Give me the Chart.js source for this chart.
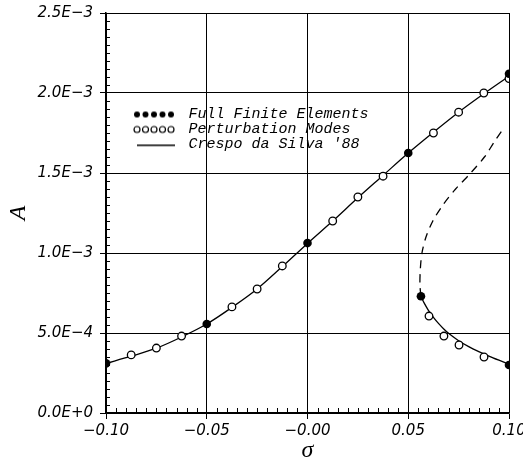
<!DOCTYPE html>
<html>
<head>
<meta charset="utf-8">
<script src="https://cdn.jsdelivr.net/npm/chart.js@4.4.0/dist/chart.umd.min.js"></script>
<style>
body { margin: 0; background: #fff; }
#wrap { width: 523px; height: 461px; position: relative; }
</style>
</head>
<body>
<div id="wrap"><canvas id="canvas"></canvas></div>
<script>
// values (sigma, A)
var ffeX = [-0.10, -0.05, 0.00, 0.05, 0.10, 0.0563, 0.10];
var ffeY = [3.1e-4, 5.56e-4, 1.062e-3, 1.625e-3, 2.12e-3, 7.3e-4, 3.0e-4];

var pmX = [-0.0875, -0.075, -0.0625, -0.0375, -0.025, -0.0125, 0.0125, 0.025, 0.0375, 0.0625, 0.075, 0.0875, 0.10,
           0.0603, 0.0677, 0.0752, 0.0876];
var pmY = [3.63e-4, 4.06e-4, 4.81e-4, 6.63e-4, 7.75e-4, 9.19e-4, 1.2e-3, 1.35e-3, 1.48e-3, 1.75e-3, 1.88e-3, 2.0e-3, 2.09e-3,
           6.06e-4, 4.81e-4, 4.25e-4, 3.5e-4];

// Crespo da Silva '88: upper stable branch, lower stable branch, unstable (dashed) branch
var crespoX = [-0.10, -0.0875, -0.075, -0.0625, -0.05, -0.0375, -0.025, -0.0125, 0.00, 0.0125, 0.025, 0.0375, 0.05, 0.0625, 0.075, 0.0875, 0.10];
var crespoY = [3.1e-4, 3.55e-4, 4.05e-4, 4.75e-4, 5.56e-4, 6.6e-4, 7.75e-4, 9.15e-4, 1.06e-3, 1.2e-3, 1.345e-3, 1.485e-3, 1.625e-3, 1.755e-3, 1.88e-3, 1.995e-3, 2.105e-3];

var lowX = [0.0563, 0.058, 0.060, 0.0625, 0.065, 0.0675, 0.070, 0.075, 0.080, 0.085, 0.090, 0.095, 0.10];
var lowY = [7.3e-4, 6.85e-4, 6.42e-4, 5.98e-4, 5.6e-4, 5.27e-4, 4.98e-4, 4.52e-4, 4.15e-4, 3.84e-4, 3.56e-4, 3.3e-4, 3.05e-4];

var dashX = [0.0563, 0.0558, 0.0560, 0.0568, 0.0588, 0.0622, 0.0672, 0.0735, 0.0810, 0.0878, 0.0930, 0.0968];
var dashY = [7.3e-4, 8.0e-4, 9.0e-4, 1.0e-3, 1.1e-3, 1.2e-3, 1.3e-3, 1.4e-3, 1.5e-3, 1.6e-3, 1.7e-3, 1.77e-3];

var xTickLabels = ['\u22120.10', '\u22120.05', '\u22120.00', '0.05', '0.10'];
var yTickLabels = ['0.0E+0', '5.0E\u22124', '1.0E\u22123', '1.5E\u22123', '2.0E\u22123', '2.5E\u22123'];
var legendLabels = ['Full Finite Elements', 'Perturbation Modes', "Crespo da Silva '88"];

function pts(xs, ys) {
    return xs.map(function (x, i) { return {x: x, y: ys[i]}; });
}

// little legend symbols: 5 dots, 5 rings, a line
function makeSymbol(kind) {
    var c = document.createElement('canvas');
    c.width = 75; c.height = 12;
    var g = c.getContext('2d');
    g.strokeStyle = '#000';
    g.fillStyle = '#000';
    g.lineWidth = 1.2;
    if (kind == 'line') {
        g.fillRect(31, 6, 38, 1.5);
    } else {
        for (var i = 0; i < 5; i++) {
            g.beginPath();
            g.arc(31 + i * 8.5, 6, 3, 0, Math.PI * 2);
            if (kind == 'filled') g.fill(); else g.stroke();
        }
    }
    return c;
}
var symbols = [makeSymbol('filled'), makeSymbol('open'), makeSymbol('line')];

var minorTicks = {
    id: 'minorTicks',
    beforeDatasetsDraw: function (chart) {
        var ctx = chart.ctx, xs = chart.scales.x, ys = chart.scales.y;
        var a = chart.chartArea;
        ctx.save();
        ctx.strokeStyle = '#000';
        ctx.lineWidth = 1;
        ctx.beginPath();
        for (var i = 1; i < 50; i++) {
            if (i % 10 == 0) continue;
            var py = Math.round(ys.getPixelForValue(i * 5e-5)) + 0.5;
            ctx.moveTo(a.left, py); ctx.lineTo(a.left + 4, py);
        }
        for (var j = 1; j < 40; j++) {
            if (j % 10 == 0) continue;
            var px = Math.round(xs.getPixelForValue(-0.1 + j * 0.005)) + 0.5;
            ctx.moveTo(px, a.bottom); ctx.lineTo(px, a.bottom - 5);
        }
        ctx.stroke();
        ctx.restore();
    }
};

var tickFont = {family: 'DejaVu Sans', style: 'italic', size: 15};

var ctx = document.getElementById('canvas').getContext('2d');
var myChart = new Chart(ctx, {
    type: 'scatter',
    data: {
        datasets: [{
            label: legendLabels[0],
            data: pts(ffeX, ffeY),
            pointRadius: 4.3,
            pointBackgroundColor: '#000',
            pointBorderColor: '#000',
            pointBorderWidth: 0,
            showLine: false
        }, {
            label: legendLabels[1],
            data: pts(pmX, pmY),
            pointRadius: 3.8,
            pointBackgroundColor: '#fff',
            pointBorderColor: '#000',
            pointBorderWidth: 1.3,
            showLine: false
        }, {
            label: legendLabels[2],
            data: pts(crespoX, crespoY),
            showLine: true,
            pointRadius: 0,
            borderColor: '#000',
            borderWidth: 1.3,
            cubicInterpolationMode: 'monotone'
        }, {
            label: 'lower',
            data: pts(lowX, lowY),
            showLine: true,
            pointRadius: 0,
            borderColor: '#000',
            borderWidth: 1.3,
            cubicInterpolationMode: 'monotone'
        }, {
            label: 'unstable',
            data: pts(dashX, dashY),
            showLine: true,
            pointRadius: 0,
            borderColor: '#000',
            borderWidth: 1.3,
            borderDash: [8, 6],
            tension: 0.3
        }]
    },
    options: {
        responsive: true,
        maintainAspectRatio: false,
        animation: false,
        layout: {padding: {top: 13, right: 14, left: 0, bottom: 0}},
        plugins: {
            tooltip: {enabled: false},
            legend: {
                position: 'chartArea',
                align: 'start',
                title: {display: true, text: '', font: {size: 10}, padding: {top: 95, bottom: 0}},
                labels: {
                    usePointStyle: true,
                    pointStyleWidth: 75,
                    padding: 0,
                    color: '#000',
                    font: {family: 'Liberation Mono', style: 'italic', size: 15},
                    generateLabels: function (chart) {
                        return legendLabels.map(function (t, i) {
                            return {text: t, pointStyle: symbols[i], fillStyle: '#000', strokeStyle: '#000',
                                    fontColor: '#000', lineWidth: 0, hidden: false, datasetIndex: i};
                        });
                    }
                }
            }
        },
        scales: {
            x: {
                type: 'linear',
                min: -0.10,
                max: 0.10,
                afterFit: function (s) { s.height = 48; s.paddingLeft = 0; s.paddingRight = 0; },
                ticks: {
                    stepSize: 0.05,
                    autoSkip: false,
                    maxRotation: 0,
                    padding: 3,
                    color: '#000',
                    font: tickFont,
                    callback: function (v, i) { return xTickLabels[i]; }
                },
                grid: {color: '#000', lineWidth: 1, tickLength: 6, tickColor: '#000'},
                border: {color: '#000', width: 1.5},
                title: {display: true, text: '\u03c3', color: '#000',
                        font: {family: 'Liberation Serif', style: 'italic', size: 24}, padding: {top: 0, bottom: -4}}
            },
            y: {
                type: 'linear',
                min: 0,
                max: 0.0025,
                afterFit: function (s) { s.width = 106; s.paddingTop = 0; s.paddingBottom = 0; },
                ticks: {
                    stepSize: 0.0005,
                    autoSkip: false,
                    padding: 7,
                    color: '#000',
                    font: tickFont,
                    callback: function (v, i) { return yTickLabels[i]; }
                },
                grid: {color: '#000', lineWidth: 1, tickLength: 6, tickColor: '#000'},
                border: {color: '#000', width: 1.5},
                title: {display: true, text: 'A', color: '#000',
                        font: {family: 'Liberation Serif', style: 'italic', size: 24}, padding: 4}
            }
        }
    },
    plugins: [minorTicks]
});
</script>
</body>
</html>
